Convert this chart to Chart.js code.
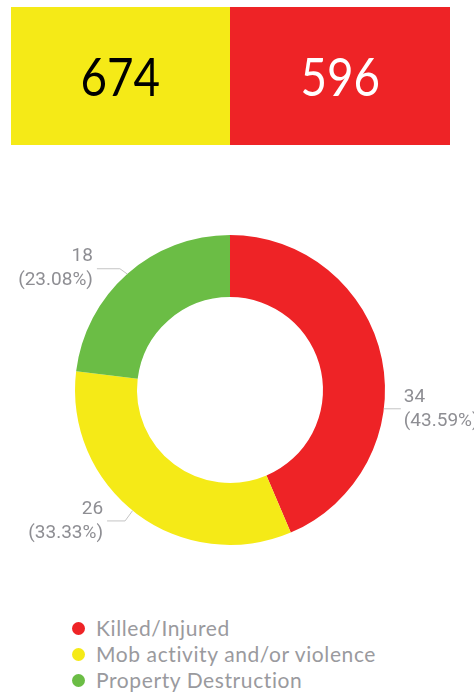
<!DOCTYPE html>
<html>
<head>
<meta charset="utf-8">
<script src="https://cdn.jsdelivr.net/npm/chart.js@4/dist/chart.umd.min.js"></script>
<style>
  body { margin: 0; width: 474px; height: 694px; background: #fff; position: relative; overflow: hidden; font-family: Lato, "Noto Sans", sans-serif; }
  .box { position: absolute; top: 7px; height: 138px; display: flex; align-items: center; justify-content: center; font-size: 52px; font-weight: 400; }
  .box span { display: inline-block; transform: scaleX(0.88); }
  #chartWrap { position: absolute; left: 0; top: 150px; width: 474px; height: 450px; }
  #legend { position: absolute; left: 70px; top: 615px; }
  .item { height: 26px; line-height: 26px; font-size: 21px; letter-spacing: 0.6px; color: #9a9a9e; display: flex; align-items: center; }
  .dot { width: 13px; height: 13px; border-radius: 50%; margin-right: 11px; margin-left: 2px; }
</style>
</head>
<body>
<div id="totals"></div>
<div id="chartWrap"><canvas id="donut"></canvas></div>
<div id="legend"></div>
<script>
// headline numbers
const totalValues = [674, 596];
const totalColors = ['#F5EA17', '#EE2326'];
const totalTextColors = ['#000', '#fff'];

// donut data
const categories = ['Killed/Injured', 'Mob activity and/or violence', 'Property Destruction'];
const counts = [34, 26, 18];
const sliceColors = ['#EE2326', '#F5EA17', '#6BBD45'];

// totals boxes
const boxLeft = [11, 230];
const boxWidth = [219, 220];
totalValues.forEach((v, i) => {
    const d = document.createElement('div');
    d.className = 'box';
    d.style.left = boxLeft[i] + 'px';
    d.style.width = boxWidth[i] + 'px';
    d.style.background = totalColors[i];
    d.style.color = totalTextColors[i];
    d.innerHTML = '<span>' + v + '</span>';
    document.getElementById('totals').appendChild(d);
});

// legend
categories.forEach((c, i) => {
    const row = document.createElement('div');
    row.className = 'item';
    row.innerHTML = '<span class="dot" style="background:' + sliceColors[i] + '"></span>' + c;
    document.getElementById('legend').appendChild(row);
});

// labels with leader lines
const leaderLabels = {
    id: 'leaderLabels',
    afterDatasetsDraw(chart, args, opts) {
        const ctx = chart.ctx;
        const meta = chart.getDatasetMeta(0);
        const total = counts.reduce((a, b) => a + b, 0);
        ctx.save();
        ctx.font = '19px Roboto, sans-serif';
        ctx.fillStyle = '#8e8e93';
        ctx.strokeStyle = '#c4c4c4';
        ctx.lineWidth = 1;
        meta.data.forEach((arc, i) => {
            const mid = (arc.startAngle + arc.endAngle) / 2 + (opts.angleNudge[i] || 0) * Math.PI / 180;
            const r = arc.outerRadius;
            const x0 = arc.x + Math.cos(mid) * r;
            const y0 = arc.y + Math.sin(mid) * r;
            const right = Math.cos(mid) >= 0;
            const x1 = arc.x + Math.cos(mid) * (r + opts.elbow[i]);
            const y1 = arc.y + Math.sin(mid) * (r + opts.elbow[i]) + (opts.elbowDrop[i] || 0);
            const x2 = x1 + (right ? 1 : -1) * opts.hLen[i];
            ctx.beginPath();
            ctx.moveTo(x0, y0);
            ctx.lineTo(x1, y1);
            ctx.lineTo(x2, y1);
            ctx.stroke();
            ctx.textAlign = right ? 'left' : 'right';
            ctx.textBaseline = 'middle';
            const tx = x2 + (right ? 3 : -4);
            const pct = (counts[i] / total * 100).toFixed(2);
            ctx.fillText(String(counts[i]), tx, y1 - 12);
            ctx.fillText('(' + pct + '%)', tx, y1 + 12);
        });
        ctx.restore();
    }
};

new Chart(document.getElementById('donut'), {
    type: 'doughnut',
    data: {
        labels: categories,
        datasets: [{
            data: counts,
            backgroundColor: sliceColors,
            borderWidth: 0
        }]
    },
    options: {
        responsive: true,
        maintainAspectRatio: false,
        animation: false,
        cutout: '60%',
        layout: { padding: { left: 0, right: 14, top: 85, bottom: 55 } },
        plugins: {
            legend: { display: false },
            tooltip: { enabled: false },
            leaderLabels: {
                angleNudge: [18.5, 2, 0],
                elbow: [0, 12, 11],
                elbowDrop: [0, 1, 3],
                hLen: [17, 18, 23]
            }
        }
    },
    plugins: [leaderLabels]
});
</script>
</body>
</html>
